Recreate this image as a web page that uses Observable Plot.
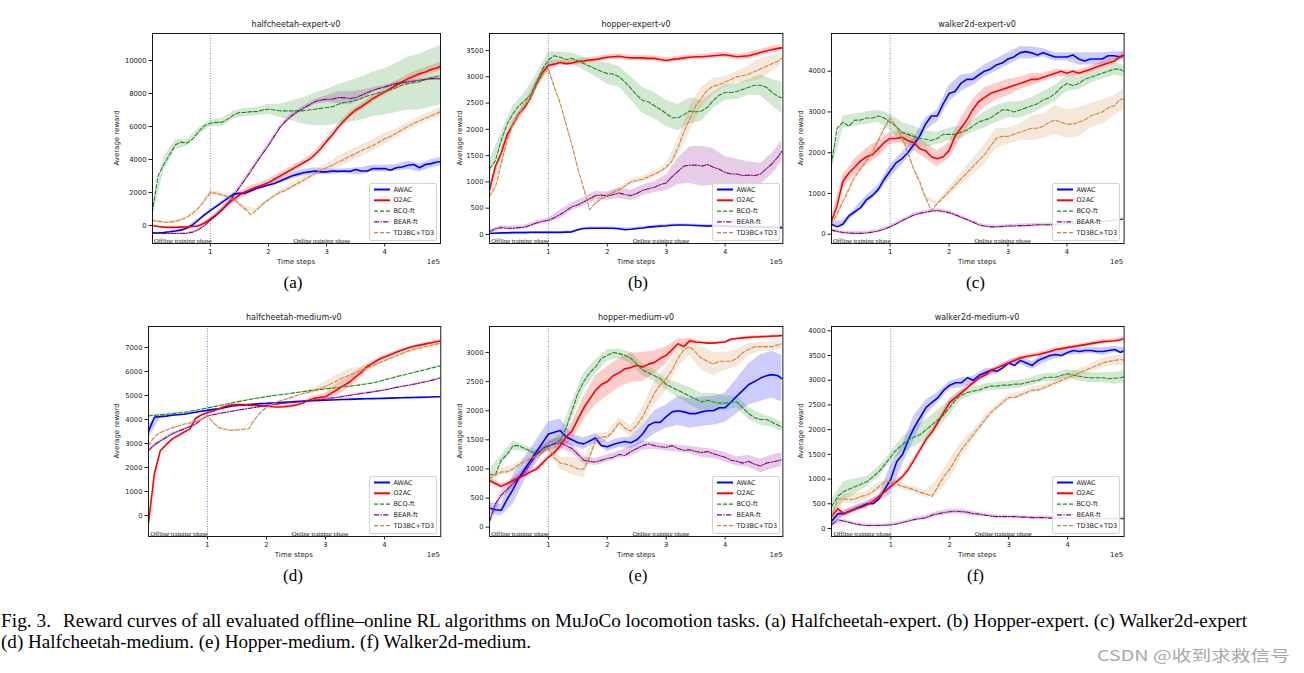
<!DOCTYPE html>
<html><head><meta charset="utf-8">
<script src="https://cdn.jsdelivr.net/npm/d3@7"></script>
<script src="https://cdn.jsdelivr.net/npm/@observablehq/plot@0.6"></script>
<style>
html,body{margin:0;padding:0;background:#fff;}
body{width:1304px;height:673px;position:relative;overflow:hidden;font-family:"DejaVu Sans",sans-serif;color:#222;}
.abs{position:absolute;white-space:nowrap;line-height:1;}
.ttl{font-size:8px;transform:translate(-50%,-50%);}
.xl{font-size:7px;transform:translate(-50%,-50%);}
.e5{font-size:7px;transform:translate(-100%,-50%);}
.yl{font-size:7px;transform:translate(-50%,-50%) rotate(-90deg);}
.tag{font-family:"Liberation Serif",serif;font-size:17px;transform:translate(-50%,-50%);color:#000;}
.plot{position:absolute;}
.leg{position:absolute;background:rgba(255,255,255,0.85);border:1px solid #d4d4d4;border-radius:2px;box-sizing:border-box;}
</style></head><body>
<script>
// ---------- data ----------
const STEPS = [0,0.1,0.2,0.3,0.4,0.5,0.6,0.7,0.8,0.9,
  1,1.1,1.2,1.3,1.4,1.5,1.6,1.7,1.8,1.9,
  2,2.1,2.2,2.3,2.4,2.5,2.6,2.7,2.8,2.9,
  3,3.1,3.2,3.3,3.4,3.5,3.6,3.7,3.8,3.9,
  4,4.1,4.2,4.3,4.4,4.5,4.6,4.7,4.8,4.9,4.96];
const SERIES_NAMES = ["AWAC","O2AC","BCQ-ft","BEAR-ft","TD3BC+TD3"];
const X_TICKS = [1,2,3,4];
const PHASE_LABELS = ["Offline training phase","Online training phase"];
const PHASE_X = [0.03, 2.43];
const SWITCH_X = [1];

// (a) halfcheetah-expert
const AWAC_a = [-450,-450,-420,-380,-330,-280,-150,50,350,650,900,1150,1400,1650,1900,1950,1950,2100,2250,2350,2450,2550,2700,2850,3000,3100,3200,3250,3300,3250,3250,3300,3280,3300,3280,3400,3300,3300,3450,3450,3450,3350,3500,3550,3650,3700,3500,3700,3750,3850,3870];
const AWAC_a_band = [30,30,40,60,80,80,80,80,80,80,100,150,180,200,200,180,150,180,220,200,200,200,250,250,250,250];
const O2AC_a = [0,-60,-100,-110,-110,-100,-90,-60,-20,150,380,650,950,1300,1600,1850,2050,2200,2350,2450,2600,2800,3000,3200,3400,3600,3800,4000,4300,4650,5100,5500,5950,6350,6700,7000,7200,7450,7700,7900,8100,8300,8500,8700,8900,9050,9200,9300,9450,9550,9650];
const O2AC_a_band = [30,40,40,40,60,100,150,200,200,200,200,200,200,200,200,200,200,200,200,200,200,250,250,250,250,250];
const BCQ_a = [800,3000,3700,4300,4900,5050,5000,5250,5700,6050,6200,6250,6250,6450,6700,6850,6850,6900,6900,7000,7050,7000,6950,6950,6950,6950,6950,7000,7050,7100,7150,7200,7350,7450,7500,7600,7700,7850,7950,8050,8100,8250,8350,8500,8600,8650,8700,8850,8950,9050,9100];
const BCQ_a_band = [300,400,300,200,200,200,250,250,250,250,300,400,600,800,1000,1100,1200,1250,1300,1350,1400,1500,1600,1700,1750,1800];
const BEAR_a = [-450,-470,-480,-480,-480,-480,-470,-400,-250,0,300,600,950,1350,1800,2300,2800,3300,3850,4350,4850,5400,5950,6350,6650,6900,7100,7300,7500,7600,7650,7650,7750,7750,7700,7750,7900,8050,8200,8300,8400,8500,8600,8650,8700,8750,8800,8850,8900,8900,8900];
const BEAR_a_band = [50,50,50,50,60,100,120,150,150,150,150,150,150,150,150,200,350,400,300,150,100,100,100,100,100,100];
const TD3_a = [300,250,200,200,250,350,500,750,1050,1500,2000,1950,1850,1750,1600,1300,1000,650,950,1300,1550,1800,2000,2150,2350,2550,2750,2950,3150,3350,3500,3650,3850,4000,4200,4350,4550,4700,4850,5050,5250,5400,5600,5800,6000,6200,6350,6500,6650,6800,6900];
const TD3_a_band = [80,80,80,80,80,150,150,150,150,100,100,100,200,200,200,200,350,350,350,350,350,250,250,250,250,250];

// (b) hopper-expert
const AWAC_b = [20,25,30,30,35,35,35,40,40,40,40,40,40,45,50,90,115,120,120,120,120,120,110,90,100,115,125,140,150,160,165,175,180,180,175,170,165,160,165,165,160,155,150,145,145,140,140,135,135,130,130];
const AWAC_b_band = [15,15,15,15,15,15,15,20,25,25,25,25,25,25,25,25,25,25,25,25,25,25,25,25,25,25];
const O2AC_b = [850,1300,1550,1900,2100,2300,2420,2600,2870,3080,3220,3240,3270,3250,3260,3290,3300,3320,3330,3350,3370,3380,3390,3370,3360,3360,3360,3350,3350,3330,3310,3330,3340,3360,3370,3380,3380,3390,3400,3410,3420,3400,3380,3390,3400,3430,3460,3490,3520,3540,3550];
const O2AC_b_band = [80,80,80,80,80,80,50,50,50,50,50,50,50,50,50,50,50,50,50,50,50,50,60,60,60,60];
const BCQ_b = [1250,1400,1800,2100,2300,2450,2550,2650,2900,3150,3320,3400,3370,3330,3350,3300,3250,3200,3150,3100,3060,3050,3000,2900,2780,2650,2550,2520,2450,2380,2300,2220,2220,2280,2350,2330,2350,2420,2550,2650,2700,2700,2720,2760,2800,2840,2840,2800,2700,2620,2600];
const BCQ_b_band = [150,150,150,150,150,150,100,100,120,150,200,200,220,250,250,250,250,250,200,150,150,150,150,200,250,300];
const BEAR_b = [50,110,130,120,120,130,140,180,220,250,270,320,380,450,530,560,620,680,740,750,730,760,790,760,740,780,840,870,900,950,980,1100,1200,1300,1320,1320,1300,1330,1280,1240,1180,1150,1150,1120,1130,1120,1150,1250,1350,1480,1580];
const BEAR_b_band = [40,40,40,40,40,40,80,80,80,80,80,100,100,100,100,150,250,350,380,350,300,280,250,200,200,200];
const TD3_b = [730,900,1350,1800,2100,2300,2450,2600,2850,3050,3150,2800,2500,2100,1700,1250,870,470,600,680,750,800,850,920,1000,1030,1050,1100,1150,1200,1280,1400,1650,1950,2200,2450,2600,2750,2820,2850,2900,2950,3000,3020,3050,3100,3150,3200,3250,3300,3350];
const TD3_b_band = [60,60,60,60,60,60,30,30,30,40,40,40,60,60,60,60,150,250,200,150,100,100,150,200,150,100];

// (c) walker2d-expert
const AWAC_c = [250,180,250,450,550,650,850,950,1100,1350,1550,1750,1850,2000,2200,2400,2700,2900,2900,3200,3450,3500,3700,3800,3800,3900,4000,4050,4150,4200,4300,4350,4450,4480,4450,4400,4450,4400,4350,4350,4350,4400,4300,4250,4300,4300,4300,4380,4380,4350,4380];
const AWAC_c_band = [80,80,80,100,100,150,150,150,150,150,200,200,150,150,150,150,150,150,100,100,100,150,150,150,100,100];
const O2AC_c = [300,700,1300,1500,1650,1800,1900,1950,2100,2250,2350,2350,2380,2300,2250,2100,2050,1900,1850,1900,2050,2400,2600,2800,3050,3250,3350,3450,3500,3550,3600,3650,3700,3750,3800,3800,3850,3900,3950,4000,3950,4000,3950,4000,4050,4100,4150,4200,4250,4350,4400];
const O2AC_c_band = [100,150,200,200,200,150,150,200,200,200,200,250,250,250,200,200,150,150,100,100,80,80,80,80,80,80];
const BCQ_c = [1700,2600,2750,2650,2800,2800,2850,2850,2900,2850,2750,2650,2500,2450,2400,2350,2330,2300,2350,2450,2450,2450,2500,2550,2650,2750,2800,2850,2950,3050,3050,3000,3050,3100,3150,3200,3300,3350,3450,3600,3700,3650,3700,3800,3850,3900,3950,4000,4050,4050,4000];
const BCQ_c_band = [150,150,150,150,150,200,250,250,200,150,150,150,150,200,200,200,200,200,200,200,200,150,150,150,150,150];
const BEAR_c = [100,70,40,30,20,20,30,50,80,120,180,250,330,400,470,510,540,570,580,560,530,480,420,360,300,230,200,180,180,190,200,200,210,210,220,230,230,230,240,250,260,270,270,280,290,300,310,330,340,360,370];
const BEAR_c_band = [40,40,40,40,40,40,40,40,50,50,50,40,40,40,40,40,40,40,40,40,40,40,40,40,40,40];
const TD3_c = [250,500,800,1100,1400,1600,1800,2000,2300,2600,2850,2650,2400,2000,1600,1300,900,580,750,900,1050,1200,1350,1500,1650,1800,1950,2150,2350,2400,2400,2450,2500,2550,2600,2600,2650,2750,2800,2750,2700,2700,2750,2800,2900,2950,3000,3100,3150,3300,3320];
const TD3_c_band = [50,50,50,50,50,50,50,50,50,50,100,150,200,250,250,200,200,300,300,350,350,350,300,300,250,250];

// (d) halfcheetah-medium
const AWAC_d = [3500,4100,4120,4140,4180,4200,4220,4260,4300,4340,4380,4420,4450,4500,4550,4580,4600,4620,4640,4660,4670,4690,4700,4715,4730,4745,4760,4770,4780,4790,4800,4810,4820,4830,4840,4850,4860,4865,4870,4875,4880,4890,4900,4905,4910,4915,4920,4930,4940,4945,4950];
const AWAC_d_band = [300,60,30,20,20,20,20,20,20,20,20,20,20,20,20,20,20,20,20,20,20,20,20,20,20,20];
const O2AC_d = [-300,1750,2700,2950,3180,3320,3470,3600,4050,4200,4280,4350,4450,4550,4600,4620,4620,4600,4580,4570,4550,4530,4520,4530,4560,4600,4680,4780,4880,4920,4950,5100,5250,5400,5550,5750,5950,6200,6350,6500,6600,6700,6800,6900,6980,7050,7100,7150,7200,7250,7280];
const O2AC_d_band = [100,30,30,30,30,30,30,30,30,30,30,60,60,50,100,150,250,250,200,100,80,60,60,60,60,60];
const BCQ_d = [4150,4170,4200,4220,4250,4270,4300,4340,4380,4430,4480,4530,4580,4630,4680,4730,4780,4830,4870,4910,4950,4990,5020,5050,5080,5120,5150,5190,5220,5250,5280,5300,5330,5360,5380,5410,5450,5480,5520,5580,5650,5710,5780,5840,5900,5960,6020,6080,6150,6200,6250];
const BCQ_d_band = [30,20,20,20,20,20,20,20,20,20,20,20,20,20,20,20,20,20,20,20,20,20,20,20,20,20];
const BEAR_d = [2700,2950,3100,3250,3400,3500,3600,3700,3800,4000,4150,4200,4250,4290,4330,4380,4420,4460,4500,4540,4580,4610,4650,4680,4700,4730,4750,4780,4800,4830,4850,4890,4920,4960,5000,5040,5080,5110,5150,5190,5230,5280,5330,5380,5420,5470,5520,5570,5630,5690,5750];
const BEAR_d_band = [80,80,60,40,30,30,30,30,30,30,30,30,30,30,30,30,30,30,30,30,30,30,30,30,30,30];
const TD3_d = [2900,3300,3450,3550,3650,3720,3800,3850,3900,4000,4150,3850,3650,3580,3550,3560,3580,3620,4000,4300,4500,4650,4750,4820,4900,4980,5060,5130,5200,5280,5380,5500,5620,5750,5850,5950,6050,6150,6250,6350,6450,6550,6650,6750,6850,6920,6980,7040,7100,7150,7180];
const TD3_d_band = [40,40,30,30,30,30,30,30,30,30,30,30,30,30,100,200,250,250,150,100,80,80,80,80,80,80];

// (e) hopper-medium
const AWAC_e = [330,300,290,480,650,850,1000,1150,1300,1450,1600,1630,1660,1550,1500,1450,1430,1480,1530,1400,1380,1420,1450,1470,1450,1500,1600,1750,1800,1800,1900,1980,2000,1980,1950,1950,1980,2000,2000,2050,2050,2150,2250,2350,2450,2500,2560,2600,2620,2600,2550];
const AWAC_e_band = [100,100,250,200,200,200,200,100,100,80,80,80,100,150,200,200,250,250,250,250,250,300,350,400,400,400];
const O2AC_e = [800,750,700,750,800,850,900,950,1000,1100,1200,1280,1400,1550,1650,1850,2050,2200,2350,2450,2500,2600,2650,2720,2740,2780,2750,2800,2830,2900,2950,3050,3150,3100,3200,3180,3170,3160,3160,3170,3180,3230,3240,3250,3260,3265,3270,3275,3280,3285,3290];
const O2AC_e_band = [60,40,40,40,40,40,80,150,200,250,250,250,250,250,200,150,80,40,20,20,20,20,20,20,20,20];
const BCQ_e = [900,900,1150,1250,1400,1400,1350,1300,1270,1300,1380,1430,1500,1700,2000,2300,2500,2650,2750,2900,2950,3000,2980,2950,2900,2800,2700,2650,2600,2550,2450,2400,2350,2300,2250,2200,2150,2180,2150,2130,2130,2150,2150,2050,1950,1880,1850,1850,1800,1750,1720];
const BCQ_e_band = [100,80,80,50,50,80,100,150,150,120,100,80,100,100,100,100,120,150,150,150,120,100,100,100,80,80];
const BEAR_e = [100,400,550,650,750,850,950,1100,1250,1350,1400,1430,1450,1400,1350,1250,1150,1130,1120,1150,1180,1200,1250,1230,1300,1350,1400,1430,1400,1380,1370,1400,1350,1320,1330,1300,1280,1300,1260,1230,1200,1150,1130,1100,1130,1080,1050,1100,1120,1140,1160];
const BEAR_e_band = [80,80,80,80,80,80,100,80,60,60,60,60,80,80,60,60,60,60,80,80,80,80,100,120,120,120];
const TD3_e = [820,900,950,950,1000,1080,1130,1180,1230,1300,1350,1200,1100,1080,1050,1000,1000,1200,1500,1550,1550,1650,1800,1700,1650,1750,1900,2100,2300,2450,2550,2700,2900,3050,3100,3000,2900,2850,2800,2850,2850,2850,2900,3000,3050,3100,3100,3100,3100,3130,3150];
const TD3_e_band = [60,60,60,60,60,60,100,150,150,100,80,80,100,150,200,200,150,150,200,200,150,150,100,80,80,80];

// (f) walker2d-medium
const AWAC_f = [150,300,300,350,400,450,500,500,600,800,1000,1350,1500,1800,2050,2250,2450,2550,2650,2800,2900,2950,2950,3050,3000,3100,3150,3200,3180,3250,3350,3300,3400,3350,3300,3400,3450,3500,3520,3500,3560,3600,3580,3600,3600,3580,3580,3600,3620,3560,3600];
const AWAC_f_band = [60,60,60,60,60,300,200,250,150,100,80,100,80,80,60,60,80,80,100,80,60,60,60,80,60,60];
const O2AC_f = [250,400,300,350,400,430,480,550,650,750,850,950,1050,1200,1400,1600,1800,1950,2150,2350,2550,2650,2750,2850,2950,3050,3100,3200,3250,3300,3350,3400,3450,3480,3500,3520,3550,3580,3620,3640,3660,3680,3700,3720,3740,3760,3780,3790,3800,3820,3840];
const O2AC_f_band = [100,60,50,50,50,50,50,50,50,60,80,60,50,50,50,40,40,40,40,40,40,40,40,40,40,40];
const BCQ_f = [450,650,750,800,850,900,950,1050,1150,1300,1450,1600,1700,1800,1850,1900,2000,2100,2200,2300,2450,2600,2700,2750,2780,2800,2850,2880,2880,2900,2900,2920,2920,2950,2980,3000,3050,3060,3060,3100,3130,3100,3080,3060,3050,3050,3050,3030,3040,3050,3070];
const BCQ_f_band = [150,200,150,100,100,100,150,200,200,200,150,100,80,80,80,80,80,80,80,80,80,100,100,100,120,120];
const BEAR_f = [80,180,150,120,90,70,60,60,60,65,70,90,120,150,180,200,220,270,300,320,340,350,340,330,300,290,270,250,240,240,240,240,230,230,220,220,220,210,210,210,205,200,200,200,200,200,200,200,200,200,200];
const BEAR_f_band = [30,30,30,30,30,30,30,30,50,50,50,50,50,30,30,30,30,30,30,30,30,30,30,30,30,30];
const TD3_f = [250,600,600,580,600,650,680,750,850,950,950,900,850,820,780,730,700,650,850,1050,1200,1400,1600,1750,1900,2050,2200,2350,2450,2550,2650,2650,2700,2750,2800,2800,2850,2900,2950,3000,3050,3100,3150,3200,3250,3300,3350,3380,3400,3420,3400];
const TD3_f_band = [50,100,100,80,80,80,60,60,80,150,200,150,100,80,60,60,60,60,60,60,80,80,80,100,100,100];

const Y_TICKS_A = [0,2000,4000,6000,8000,10000];
const Y_TICKS_B = [0,500,1000,1500,2000,2500,3000,3500];
const Y_TICKS_C = [0,1000,2000,3000,4000];
const Y_TICKS_D = [0,1000,2000,3000,4000,5000,6000,7000];
const Y_TICKS_E = [0,500,1000,1500,2000,2500,3000];
const Y_TICKS_F = [0,500,1000,1500,2000,2500,3000,3500,4000];

const TITLES = ["halfcheetah-expert-v0","hopper-expert-v0","walker2d-expert-v0","halfcheetah-medium-v0","hopper-medium-v0","walker2d-medium-v0"];
const TAGS = ["(a)","(b)","(c)","(d)","(e)","(f)"];
const CAPTION_1A = "Fig. 3.";
const CAPTION_1B = "Reward curves of all evaluated offline\u2013online RL algorithms on MuJoCo locomotion tasks. (a) Halfcheetah-expert. (b) Hopper-expert. (c) Walker2d-expert";
const CAPTION_2 = "(d) Halfcheetah-medium. (e) Hopper-medium. (f) Walker2d-medium.";
const WATERMARK = "CSDN @\u6536\u5230\u6c42\u6551\u4fe1\u53f7";

// ---------- styles / layout ----------
const STYLE = {
  "AWAC":      {color:"#0000ff", w:1.6, dash:null, legW:2},
  "O2AC":      {color:"#ff0000", w:1.6, dash:null, legW:2},
  "BCQ-ft":    {color:"#1f8a1f", w:1.1, dash:"4,2", legW:1.3},
  "BEAR-ft":   {color:"#800080", w:1.1, dash:"5,1.5,1.2,1.5", legW:1.3},
  "TD3BC+TD3": {color:"#cd853f", w:1.1, dash:"4,2", legW:1.3}
};

const PANELS = [
  {frame:[152,33,288,210], xDomain:[0.005,4.96], yDomain:[-1090,11636], yTicks:Y_TICKS_A, ylx:117, tag:[293,282],
   values:[AWAC_a,O2AC_a,BCQ_a,BEAR_a,TD3_a], bands:[AWAC_a_band,O2AC_a_band,BCQ_a_band,BEAR_a_band,TD3_a_band]},
  {frame:[489.3,33,293.4,210], xDomain:[0,4.98], yDomain:[-171,3823], yTicks:Y_TICKS_B, ylx:460, tag:[638,282],
   values:[AWAC_b,O2AC_b,BCQ_b,BEAR_b,TD3_b], bands:[AWAC_b_band,O2AC_b_band,BCQ_b_band,BEAR_b_band,TD3_b_band]},
  {frame:[830.7,33.3,292.6,210], xDomain:[0.005,4.97], yDomain:[-228,4925], yTicks:Y_TICKS_C, ylx:800.7, tag:[975.5,282],
   values:[AWAC_c,O2AC_c,BCQ_c,BEAR_c,TD3_c], bands:[AWAC_c_band,O2AC_c_band,BCQ_c_band,BEAR_c_band,TD3_c_band]},
  {frame:[147.7,326.3,292.3,210], xDomain:[0,4.954], yDomain:[-875,7875], yTicks:Y_TICKS_D, ylx:117, tag:[293,575],
   values:[AWAC_d,O2AC_d,BCQ_d,BEAR_d,TD3_d], bands:[AWAC_d_band,O2AC_d_band,BCQ_d_band,BEAR_d_band,TD3_d_band]},
  {frame:[489.3,326.3,293.4,210], xDomain:[0,4.98], yDomain:[-160,3446], yTicks:Y_TICKS_E, ylx:460, tag:[638,575],
   values:[AWAC_e,O2AC_e,BCQ_e,BEAR_e,TD3_e], bands:[AWAC_e_band,O2AC_e_band,BCQ_e_band,BEAR_e_band,TD3_e_band]},
  {frame:[830.7,326.3,292.6,210], xDomain:[-0.007,4.96], yDomain:[-162,4087], yTicks:Y_TICKS_F, ylx:800.7, tag:[975.5,575],
   values:[AWAC_f,O2AC_f,BCQ_f,BEAR_f,TD3_f], bands:[AWAC_f_band,O2AC_f_band,BCQ_f_band,BEAR_f_band,TD3_f_band]}
];

const ML = 40, MR = 8, MT = 8, MB = 22;
const body = document.body;
function addDiv(cls, text, x, y) {
  const d = document.createElement("div");
  d.className = "abs " + cls;
  d.textContent = text;
  d.style.left = x + "px";
  d.style.top = y + "px";
  body.appendChild(d);
  return d;
}

PANELS.forEach((p, pi) => {
  const [fl, ft, fw, fh] = p.frame;
  const marks = [];
  p.values.forEach((vals, k) => {
    const st = STYLE[SERIES_NAMES[k]];
    const band = p.bands[k].map((w, j) => {
      const i = Math.min(j * 2, STEPS.length - 1);
      return {x: STEPS[i], lo: vals[i] - w, hi: vals[i] + w};
    });
    marks.push(Plot.areaY(band, {x: "x", y1: "lo", y2: "hi", fill: st.color, fillOpacity: 0.2, clip: true}));
  });
  marks.push(Plot.ruleX(SWITCH_X, {stroke: "#5f98d2", strokeWidth: 1, strokeDasharray: "1,1.5"}));
  p.values.forEach((vals, k) => {
    const st = STYLE[SERIES_NAMES[k]];
    const rows = STEPS.map((x, i) => ({x, y: vals[i]}));
    const opt = {x: "x", y: "y", stroke: st.color, strokeWidth: st.w, clip: true};
    if (st.dash) opt.strokeDasharray = st.dash;
    marks.push(Plot.line(rows, opt));
  });
  marks.push(Plot.text(PHASE_LABELS.map((t, i) => ({t, x: PHASE_X[i]})), {
    x: "x", text: "t", frameAnchor: "bottom", textAnchor: "start", lineAnchor: "bottom", dy: -0.5,
    fontFamily: "Liberation Serif", fontSize: 6.6, fill: "#111"
  }));
  marks.push(Plot.frame({stroke: "#000", strokeWidth: 0.9}));
  marks.push(Plot.axisX(X_TICKS, {tickSize: 3.5, tickPadding: 2, tickFormat: d => String(d), label: null}));
  marks.push(Plot.axisY(p.yTicks, {tickSize: 3.5, tickPadding: 2.5, tickFormat: d => String(d), label: null}));

  const svg = Plot.plot({
    width: fw + ML + MR, height: fh + MT + MB,
    marginLeft: ML, marginRight: MR, marginTop: MT, marginBottom: MB,
    x: {domain: p.xDomain},
    y: {domain: p.yDomain},
    style: {fontFamily: "DejaVu Sans", fontSize: "6.8px", color: "#222", background: "transparent", overflow: "visible"},
    marks
  });
  const holder = document.createElement("div");
  holder.className = "plot";
  holder.style.left = (fl - ML) + "px";
  holder.style.top = (ft - MT) + "px";
  holder.appendChild(svg);
  body.appendChild(holder);

  const cx = fl + fw / 2, cy = ft + fh / 2;
  addDiv("ttl", TITLES[pi], cx, ft - 8);
  addDiv("xl", "Time steps", cx, ft + fh + 19);
  addDiv("e5", "1e5", fl + fw, ft + fh + 19);
  addDiv("yl", "Average reward", p.ylx, cy);
  addDiv("tag", TAGS[pi], p.tag[0], p.tag[1]);

  // legend
  const LW = 68, LH = 58;
  const leg = document.createElement("div");
  leg.className = "leg";
  leg.style.left = (fl + fw - 3 - LW) + "px";
  leg.style.top = (ft + fh - 2 - LH) + "px";
  leg.style.width = LW + "px";
  leg.style.height = LH + "px";
  const ns = "http://www.w3.org/2000/svg";
  const ls = document.createElementNS(ns, "svg");
  ls.setAttribute("width", LW); ls.setAttribute("height", LH);
  ls.style.position = "absolute"; ls.style.left = "-1px"; ls.style.top = "-1px";
  SERIES_NAMES.forEach((name, i) => {
    const st = STYLE[name];
    const y = 6.5 + 10.8 * i;
    const ln = document.createElementNS(ns, "line");
    ln.setAttribute("x1", 5); ln.setAttribute("x2", 21); ln.setAttribute("y1", y); ln.setAttribute("y2", y);
    ln.setAttribute("stroke", st.color); ln.setAttribute("stroke-width", st.legW);
    if (st.dash) ln.setAttribute("stroke-dasharray", st.dash);
    ls.appendChild(ln);
    const tx = document.createElementNS(ns, "text");
    tx.setAttribute("x", 24.5); tx.setAttribute("y", y);
    tx.setAttribute("dominant-baseline", "central");
    tx.setAttribute("font-family", "DejaVu Sans"); tx.setAttribute("font-size", "6.5px"); tx.setAttribute("fill", "#222");
    tx.textContent = name;
    ls.appendChild(tx);
  });
  leg.appendChild(ls);
  body.appendChild(leg);
});

// caption + watermark
(function () {
  const ns = "http://www.w3.org/2000/svg";
  const s = document.createElementNS(ns, "svg");
  s.setAttribute("width", 1304); s.setAttribute("height", 673);
  s.style.position = "absolute"; s.style.left = "0"; s.style.top = "0"; s.style.pointerEvents = "none";
  function t(str, x, y, size, fam, fill, len) {
    const e = document.createElementNS(ns, "text");
    e.setAttribute("x", x); e.setAttribute("y", y);
    e.setAttribute("font-size", size + "px"); e.setAttribute("font-family", fam); e.setAttribute("fill", fill);
    if (len) { e.setAttribute("textLength", len); e.setAttribute("lengthAdjust", "spacingAndGlyphs"); }
    e.textContent = str;
    s.appendChild(e);
  }
  t(CAPTION_1A, 1, 626.5, 18.5, "Liberation Serif", "#000", 50);
  t(CAPTION_1B, 63, 626.5, 18.5, "Liberation Serif", "#000", 1184);
  t(CAPTION_2, 1, 648, 18.5, "Liberation Serif", "#000", 530);
  t(WATERMARK, 1097, 661, 15, "Noto Sans CJK SC", "#a8a8a8", 193);
  body.appendChild(s);
})();
</script>
</body></html>
